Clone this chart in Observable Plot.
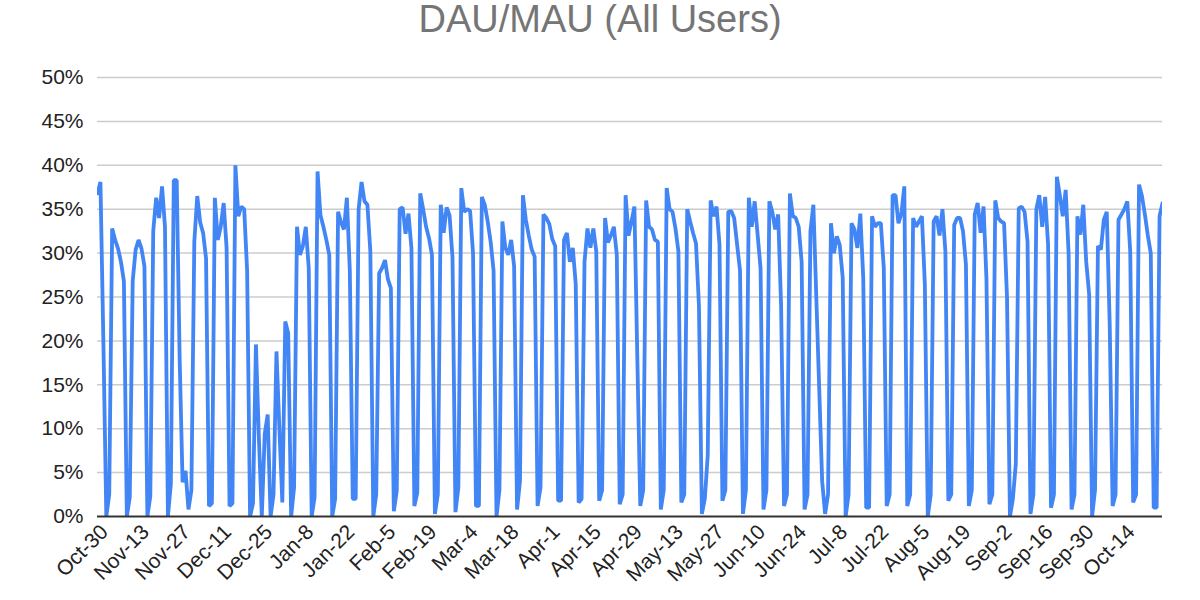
<!DOCTYPE html>
<html><head><meta charset="utf-8">
<script src="https://cdn.jsdelivr.net/npm/d3@7"></script>
<script src="https://cdn.jsdelivr.net/npm/@observablehq/plot@0.6"></script>
<style>
body{margin:0;background:#fff;font-family:"Liberation Sans",Arial,sans-serif;}
#title{height:30px;font-size:38px;line-height:38px;color:#757575;text-align:center;white-space:nowrap;overflow:visible;position:relative;z-index:1;}
</style></head><body>
<div id="title">DAU/MAU (All Users)</div>
<div id="chart"></div>
<script>
// Daily DAU/MAU (%) starting 2019-10-30
const oct2019 = [36.8, 38.1];
const nov2019 = [20, 0, 2.5, 32.8, 31.5, 30.5, 29, 26.8, 0, 2.2, 26.8, 30.4, 31.5, 30.5, 28.5, 0, 2.3, 32.5, 36.3, 34, 37.6, 33, 0, 3.7, 38.3, 38.3, 18, 3.9, 5.2, 0.8];
const dec2019 = [3, 31.3, 36.5, 33.5, 32.3, 29.4, 1.2, 1.5, 36.3, 31.5, 33, 35.7, 30.6, 1.2, 1.5, 40, 34.2, 35.3, 35, 28, 0, 1.5, 19.6, 9, 0, 9.4, 11.6, 0, 2.5, 18.8, 10];
const jan2020 = [1.6, 22.2, 20.9, 0, 3.3, 33, 29.8, 30.8, 33, 28.3, 0, 2.2, 39.3, 34.3, 33, 31.5, 29.8, 0, 2, 34.7, 33.5, 32.7, 36.3, 28, 2, 2, 35, 38.1, 35.9, 35.5, 30.2];
const feb2020 = [0, 2.5, 27.7, 28.3, 29.2, 27, 26, 0.6, 2.9, 35, 35.2, 32.2, 34.5, 30.6, 1.2, 2.7, 36.8, 35, 33, 31.7, 29.8, 0.3, 2.5, 35.5, 32.3, 35.2, 34.3, 29.5, 0.5];
const mar2020 = [3.3, 37.4, 34.7, 35, 34.8, 30, 1.2, 1.2, 36.4, 35.5, 33.6, 31.3, 28, 0, 3, 33.6, 30.6, 29.8, 31.5, 28.5, 0.8, 4, 36.6, 33.8, 32, 30.4, 29.6, 1.2, 3.3, 34.4, 34];
const apr2020 = [33.3, 31.6, 30.8, 1.8, 1.8, 31.5, 32.3, 29, 30.6, 26.5, 1.6, 2, 29, 32.8, 30.6, 32.8, 30.2, 1.8, 3, 34, 31.2, 32, 33, 29.8, 1.4, 2.5, 36.6, 32, 33.6, 35.3];
const may2020 = [18, 1.2, 3, 36, 33, 32.7, 31.5, 31.3, 0.8, 3, 37.4, 35, 34.7, 32.8, 30.2, 1.6, 2.5, 35, 33.6, 32.3, 31.1, 24, 0.3, 2, 7, 36, 34.2, 35.3, 31, 1.8, 3];
const jun2020 = [34.7, 34.8, 34, 31, 28, 0.3, 3, 36.3, 33, 35.9, 32.1, 28.3, 0.8, 3, 35.9, 34.7, 32.7, 34.4, 24, 1.2, 2.5, 36.8, 34.2, 34, 33, 29, 0.8, 2.5, 32.5, 35.5];
const jul2020 = [25, 14.5, 4, 0.3, 2.5, 33.4, 30, 31.9, 30.9, 27.2, 0, 2.5, 33.4, 32.7, 30.6, 34.5, 27.2, 1, 1, 34.2, 33, 33.4, 33.4, 28.3, 1.2, 2.5, 36.6, 36.6, 33.4, 34.5, 37.6];
const aug2020 = [1.2, 2.5, 34, 33, 33.6, 34.2, 26.4, 0, 2.5, 33.6, 34.2, 32, 35, 30.2, 1.8, 2.5, 33.2, 34, 34, 32.5, 28.7, 1.2, 3, 34.4, 35.7, 32.3, 35.3, 27, 1.4, 2.5, 36];
const sep2020 = [34, 33.6, 33.4, 25, 0, 2, 6, 35.1, 35.3, 34.7, 31.3, 0.3, 2.5, 35, 36.6, 33, 36.4, 31, 1, 2.5, 38.7, 36.6, 34.2, 37.2, 30, 0.8, 2.5, 34.2, 32.1, 35.5];
const oct2020 = [29, 25.3, 0, 3, 30.8, 30.4, 33.8, 34.7, 22, 1.2, 2.5, 33.8, 34.4, 35, 35.9, 30.2, 1.6, 2.5, 37.8, 36.5, 34.4, 32, 30, 1, 1, 34.2, 35.7];

const tickLabels = ["Oct-30","Nov-13","Nov-27","Dec-11","Dec-25","Jan-8","Jan-22","Feb-5","Feb-19","Mar-4","Mar-18","Apr-1","Apr-15","Apr-29","May-13","May-27","Jun-10","Jun-24","Jul-8","Jul-22","Aug-5","Aug-19","Sep-2","Sep-16","Sep-30","Oct-14"];
const yTicks = [0, 5, 10, 15, 20, 25, 30, 35, 40, 45, 50];

const values = [].concat(oct2019, nov2019, dec2019, jan2020, feb2020, mar2020, apr2020, may2020, jun2020, jul2020, aug2020, sep2020, oct2020);
const start = new Date(Date.UTC(2019, 9, 30));
const day = 864e5;
const data = values.map((v, i) => ({date: new Date(+start + i * day), value: v}));
const end = data[data.length - 1].date;
const tickDates = tickLabels.map((t, i) => new Date(+start + i * 14 * day));
const labelOf = new Map(tickDates.map((d, i) => [+d, tickLabels[i]]));

const chart = Plot.plot({
  width: 1200, height: 570,
  marginLeft: 97, marginRight: 38, marginTop: 47, marginBottom: 84,
  style: {fontFamily: "'Liberation Sans', Arial, sans-serif", fontSize: "21px", color: "#222", background: "transparent", overflow: "visible"},
  x: {type: "utc", domain: [start, end], label: null},
  y: {domain: [0, 50], label: null},
  marks: [
    Plot.ruleY(yTicks.filter(d => d > 0), {stroke: "#cccccc", strokeWidth: 1.5, strokeOpacity: 1}),
    Plot.axisY({ticks: yTicks, tickFormat: d => d + "%", tickSize: 0, tickPadding: 14, label: null, fontSize: 21}),
    Plot.axisX({ticks: tickDates, tickFormat: d => labelOf.get(+d) ?? "", tickRotate: -45, tickSize: 0, tickPadding: 12, dx: 7, label: null, fontSize: 21}),
    Plot.lineY(data, {x: "date", y: "value", stroke: "#4285F4", strokeWidth: 3.8, strokeLinejoin: "miter", clip: true}),
    Plot.ruleY([0], {stroke: "#333333", strokeWidth: 2})
  ]
});
document.getElementById("chart").appendChild(chart);
</script></body></html>
